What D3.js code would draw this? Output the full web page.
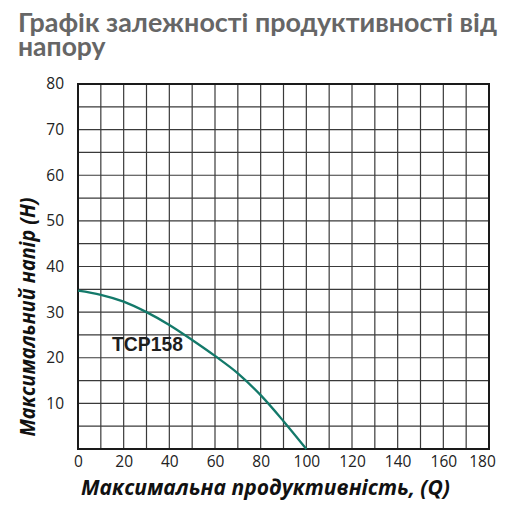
<!DOCTYPE html>
<html><head><meta charset="utf-8">
<script src="https://cdn.jsdelivr.net/npm/d3@7"></script>
<style>body{margin:0;background:#fff}svg{display:block}</style>
</head><body>
<script>
const titleLines = ["Графік залежності продуктивності від", "напору"];
const xTitle = "Максимальна продуктивність, (Q)";
const yTitle = "Максимальний напір (H)";
const seriesName = "TCP158";
const flowQ = [0, 10, 20, 30, 40, 50, 60, 70, 80, 90, 100];
const headH = [34.7, 33.8, 32.3, 30, 27.2, 23.9, 20.4, 16.6, 11.8, 6.1, 0];
const xTicks = [0, 20, 40, 60, 80, 100, 120, 140, 160, 180];
const yTicks = [10, 20, 30, 40, 50, 60, 70, 80];

const W = 512, H = 511;
const svg = d3.select("body").append("svg").attr("width", W).attr("height", H);
const m = {l: 78, r: 489, t: 84, b: 449};
const x = d3.scaleLinear().domain([0, 180]).range([m.l, m.r]);
const y = d3.scaleLinear().domain([0, 80]).range([m.b, m.t]);

// title
svg.append("g").selectAll("text").data(titleLines).join("text")
  .attr("x", 18).attr("y", (d, i) => 32 + i * 23.5)
  .attr("font-family", "Lato").attr("font-weight", 700).attr("font-size", 26.5)
  .attr("fill", "#666")
  .attr("textLength", (d, i) => i === 0 ? 479 : null)
  .attr("lengthAdjust", "spacingAndGlyphs")
  .text(d => d);

// grid
const grid = svg.append("g");
grid.selectAll("line.v").data(d3.range(10, 180, 10)).join("line")
  .attr("x1", d => x(d)).attr("x2", d => x(d)).attr("y1", m.t).attr("y2", m.b)
  .attr("stroke", "#3a3a3a").attr("stroke-width", 1.2);
grid.selectAll("line.h").data(d3.range(5, 80, 5)).join("line")
  .attr("y1", d => y(d)).attr("y2", d => y(d)).attr("x1", m.l).attr("x2", m.r)
  .attr("stroke", "#3a3a3a").attr("stroke-width", 1.2);
svg.append("rect").attr("x", m.l).attr("y", m.t).attr("width", m.r - m.l).attr("height", m.b - m.t)
  .attr("fill", "none").attr("stroke", "#1a1a1a").attr("stroke-width", 2);

// axes
const xa = svg.append("g").attr("transform", `translate(0,${m.b})`)
  .call(d3.axisBottom(x).tickValues(xTicks).tickSize(0).tickPadding(7).tickFormat(d3.format("d")));
xa.select(".domain").remove();
xa.selectAll("text").attr("font-family", "Open Sans").attr("font-size", 15.5).attr("fill", "#222")
  .attr("dx", d => d === 180 ? -7 : 0);
const ya = svg.append("g").attr("transform", `translate(${m.l},0)`)
  .call(d3.axisLeft(y).tickValues(yTicks).tickSize(0).tickPadding(14).tickFormat(d3.format("d")));
ya.select(".domain").remove();
ya.selectAll("text").attr("font-family", "Open Sans").attr("font-size", 15.5).attr("fill", "#222");

// curve
const line = d3.line().x(d => x(d[0])).y(d => y(d[1])).curve(d3.curveMonotoneX);
svg.append("path").datum(flowQ.map((q, i) => [q, headH[i]]))
  .attr("d", line).attr("fill", "none").attr("stroke", "#13796a").attr("stroke-width", 2.3);

svg.append("text").attr("x", 112).attr("y", 351)
  .attr("font-family", "Liberation Sans").attr("font-weight", 700).attr("font-size", 19.5)
  .attr("fill", "#1e1e1e").attr("textLength", 71).attr("lengthAdjust", "spacingAndGlyphs")
  .text(seriesName);

// axis titles
svg.append("text").attr("x", 265.5).attr("y", 495).attr("text-anchor", "middle")
  .attr("font-family", "Open Sans").attr("font-weight", 700).attr("font-style", "italic")
  .attr("font-size", 22).attr("fill", "#111")
  .attr("textLength", 369).attr("lengthAdjust", "spacingAndGlyphs").text(xTitle);
svg.append("text").attr("transform", "translate(35,317) rotate(-90)").attr("text-anchor", "middle")
  .attr("font-family", "Open Sans").attr("font-weight", 700).attr("font-style", "italic")
  .attr("font-size", 22).attr("fill", "#111")
  .attr("textLength", 239).attr("lengthAdjust", "spacingAndGlyphs").text(yTitle);
</script>
</body></html>
